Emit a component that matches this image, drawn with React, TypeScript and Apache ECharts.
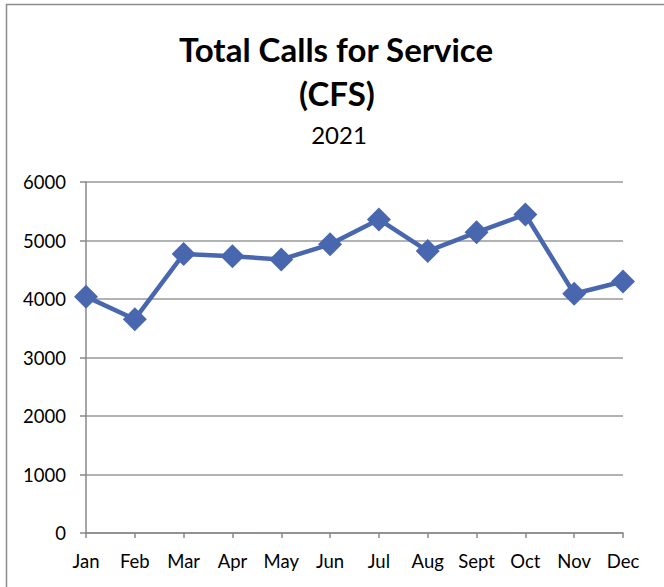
import React, { useEffect, useRef } from "react";
import * as echarts from "echarts";

const months = ["Jan", "Feb", "Mar", "Apr", "May", "Jun", "Jul", "Aug", "Sept", "Oct", "Nov", "Dec"];
const calls = [4040, 3655, 4770, 4730, 4675, 4935, 5360, 4820, 5140, 5445, 4090, 4300];
const yTicks = { min: 0, max: 6000, interval: 1000 };
const titleText = "Total Calls for Service";
const titleText2 = "(CFS)";
const subtitleText = "2021";

const FONT = "Lato, 'Open Sans', sans-serif";

export default function App() {
  const ref = useRef<HTMLDivElement>(null);
  useEffect(() => {
    if (!ref.current) return;
    const chart = echarts.init(ref.current, null, { renderer: "svg" });
    chart.setOption({
      animation: false,
      backgroundColor: "#ffffff",
      textStyle: { fontFamily: FONT },
      graphic: [
        {
          type: "rect",
          shape: { x: 6.5, y: 4.5, width: 800, height: 800 },
          style: { fill: "none", stroke: "#8c8c8c", lineWidth: 1.5 },
          silent: true,
        },
        {
          type: "text",
          x: 336,
          y: 49,
          style: {
            text: titleText,
            font: `bold 33px ${FONT}`,
            fill: "#000",
            align: "center",
            verticalAlign: "middle",
          },
        },
        {
          type: "text",
          x: 337,
          y: 93,
          style: {
            text: titleText2,
            font: `bold 33px ${FONT}`,
            fill: "#000",
            align: "center",
            verticalAlign: "middle",
          },
        },
        {
          type: "text",
          x: 339,
          y: 134,
          style: {
            text: subtitleText,
            font: `24px ${FONT}`,
            fill: "#000",
            align: "center",
            verticalAlign: "middle",
          },
        },
      ],
      grid: { left: 86, right: 41, top: 182, bottom: 54, containLabel: false },
      xAxis: {
        type: "category",
        data: months,
        boundaryGap: false,
        axisLine: { lineStyle: { color: "#888888", width: 1.5 } },
        axisTick: { show: true, length: 5, alignWithLabel: true, lineStyle: { color: "#888888", width: 1.5 } },
        axisLabel: { color: "#000", fontSize: 18.5, fontFamily: FONT, margin: 18 },
        splitLine: { show: false },
      },
      yAxis: {
        type: "value",
        min: yTicks.min,
        max: yTicks.max,
        interval: yTicks.interval,
        axisLine: { show: true, lineStyle: { color: "#888888", width: 1.5 } },
        axisTick: { show: true, length: 6, lineStyle: { color: "#888888", width: 1.5 } },
        axisLabel: { color: "#000", fontSize: 18.5, fontFamily: FONT, margin: 20, formatter: (v: number) => String(v) },
        splitLine: { show: true, lineStyle: { color: "#999999", width: 1.5 } },
      },
      series: [
        {
          type: "line",
          data: calls,
          symbol: "diamond",
          symbolSize: 24,
          lineStyle: { color: "#4967af", width: 4.5 },
          itemStyle: { color: "#4967af" },
        },
      ],
    });
    return () => chart.dispose();
  }, []);
  return (
    <div
      ref={ref}
      style={{ position: "fixed", left: 0, top: 0, width: 664, height: 587 }}
    />
  );
}
